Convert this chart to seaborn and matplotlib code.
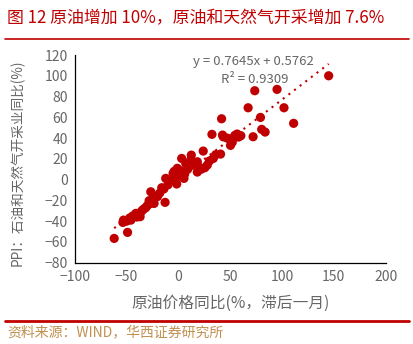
import matplotlib
matplotlib.use("Agg")
import matplotlib.pyplot as plt
import seaborn as sns
import numpy as np
import pandas as pd
from matplotlib.lines import Line2D

# Crude oil price YoY (%, lagged one month)
oil_yoy = [145, 73.7, 95.2, 67.3, 101.9, 79.2, 41.7, 111.2, 80.4, 83.7, 72.1, 32.4,
           42.6, 43.3, 54.5, 56.7, 60.3, 49.7, 50.3, 24, 40.7, 33.7, 3.2, 12.5, 11.9,
           7.1, 18.3, 27.9, 25.6, 18.3, -1, 2.2, -5.1, 6.1, 5.4, -1.6, -12.2, -9, -16,
           -26.6, -12.8, -20.2, -23.4, -28.2, -31.4, -34.6, -36.9, -41, -44.2, -52.9,
           -53.5, -45.8, -49, -61.9,
           15, 20, 9, 0, 3, -3, -7, -10, -14, -18, -22, -25, -27, -30, -33, -36, -38,
           -40, -47, -50, 36, 30, 22, 10, -4, 52, 47, 58]
# PPI: oil and gas extraction YoY (%)
ppi_yoy = [100, 85.6, 86.9, 69.2, 69.2, 59.9, 58.6, 54.2, 48.4, 45.8, 41.3, 43.6,
           42.9, 41.2, 42.6, 43.9, 42.3, 39.1, 33, 27.5, 24.6, 20.4, 20.4, 23.6, 18.8,
           15.7, 17.2, 14, 11.5, 7.3, 10.9, 8.6, 6, 5.4, 1.2, -4.2, 1.2, -2, -7.8,
           -11.7, -21.9, -16.4, -22.9, -20.3, -27, -29.3, -35.7, -32.5, -35.1, -39,
           -41.2, -39, -50.8, -56.6,
           14, 12, 10, 5, 3, 2, -1, -5, -9, -13, -16, -19, -23, -25, -28, -31, -34,
           -36, -37, -40, 24, 18, 10, 12, 8, 36, 40, 41]

# Linear trend as reported
slope = 0.7645
intercept = 0.5762
r_squared = 0.9309

x_ticks = [-100, -50, 0, 50, 100, 150, 200]
y_ticks = [-80, -60, -40, -20, 0, 20, 40, 60, 80, 100, 120]

title_text = "图 12 原油增加 10%，原油和天然气开采增加 7.6%"
x_label = "原油价格同比(%，滞后一月)"
y_label = "PPI：石油和天然气开采业同比(%)"
source_text = "资料来源：WIND，华西证券研究所"

sns.set_theme(style="white")
plt.rcParams["font.family"] = ["Noto Sans CJK SC", "DejaVu Sans"]

RED = "#c00000"
GRAY = "#666666"

df = pd.DataFrame({"oil": oil_yoy, "ppi": ppi_yoy})

fig = plt.figure(figsize=(4.14, 3.44), dpi=100)
ax = fig.add_axes([0.1804, 0.2363, 0.7512, 0.6038])

sns.scatterplot(data=df, x="oil", y="ppi", ax=ax, s=44, color=RED,
                edgecolor="none", linewidth=0, legend=False)

# Dotted trend line over the data range
xs = np.array([min(oil_yoy), max(oil_yoy)])
ax.plot(xs, slope * xs + intercept, linestyle=(0, (1, 2.4)), color=RED,
        linewidth=1.5, zorder=3)

ax.text(0.575, 0.967, f"y = {slope}x + {intercept}", transform=ax.transAxes,
        ha="center", va="center", fontsize=9.5, color=GRAY)
ax.text(0.578, 0.883, f"R² = {r_squared}", transform=ax.transAxes,
        ha="center", va="center", fontsize=9.5, color=GRAY)

ax.set_xlim(-100, 200)
ax.set_ylim(-80, 120)
ax.set_xticks(x_ticks)
ax.set_yticks(y_ticks)
ax.tick_params(axis="both", direction="in", length=3, width=0.8, colors="black",
               labelcolor=GRAY, labelsize=10, pad=5)
for side in ("top", "right"):
    ax.spines[side].set_visible(False)
for side in ("left", "bottom"):
    ax.spines[side].set_color("black")
    ax.spines[side].set_linewidth(0.9)

ax.set_xlabel(x_label, fontsize=11.3, color=GRAY)
ax.xaxis.set_label_coords(0.5, -0.155)
ax.set_ylabel(y_label, fontsize=9.8, color=GRAY)
ax.yaxis.set_label_coords(-0.16, 0.48)

fig.text(0.017, 0.948, title_text, fontsize=12.2, color=RED, ha="left", va="center")
fig.add_artist(Line2D([0.012, 0.988], [0.887, 0.887], transform=fig.transFigure,
                      color=RED, linewidth=1.2))
fig.add_artist(Line2D([0.012, 0.988], [0.067, 0.067], transform=fig.transFigure,
                      color=RED, linewidth=2.0))
fig.text(0.017, 0.035, source_text, fontsize=10, color="#c09050", ha="left", va="center")

fig.savefig("out.png", dpi=100)
